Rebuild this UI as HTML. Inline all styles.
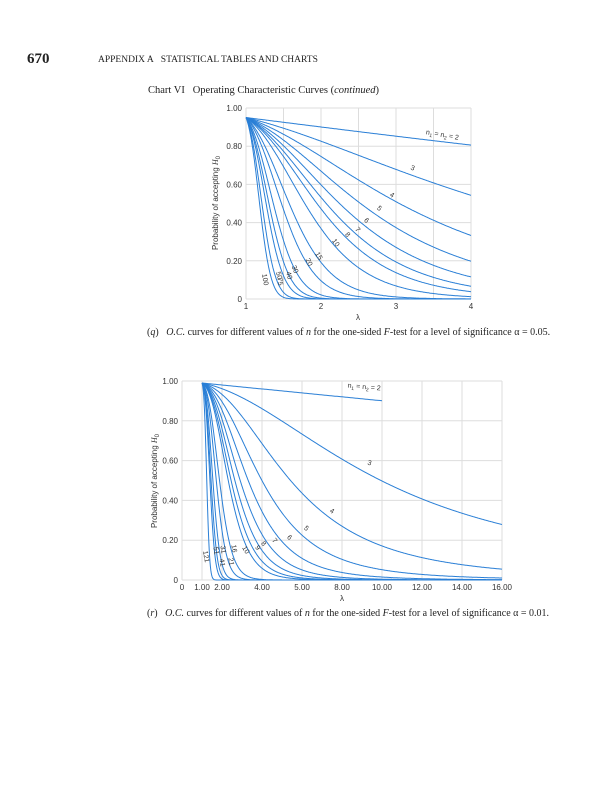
<!DOCTYPE html>
<html><head><meta charset="utf-8"><style>
html,body{margin:0;padding:0;background:#fff;}
body{width:609px;height:800px;position:relative;overflow:hidden;font-family:"Liberation Serif",serif;color:#222;}
.a{position:absolute;white-space:nowrap;}
svg{position:absolute;left:0;top:0;}
</style></head><body>
<div class="a" style="left:27px;top:51px;font-size:15px;font-weight:bold;">670</div>
<div class="a" style="left:98px;top:55px;font-size:9.5px;">APPENDIX A&nbsp;&nbsp;&nbsp;STATISTICAL TABLES AND CHARTS</div>
<div class="a" style="left:148px;top:85px;font-size:10.5px;">Chart VI&nbsp;&nbsp;&nbsp;Operating Characteristic Curves (<i>continued</i>)</div>
<div class="a" style="left:147px;top:327px;font-size:10px;">(<i>q</i>)&nbsp;&nbsp;&nbsp;<i>O.C.</i> curves for different values of <i>n</i> for the one-sided <i>F</i>-test for a level of significance α = 0.05.</div>
<div class="a" style="left:147px;top:608px;font-size:10px;">(<i>r</i>)&nbsp;&nbsp;&nbsp;<i>O.C.</i> curves for different values of <i>n</i> for the one-sided <i>F</i>-test for a level of significance α = 0.01.</div>
<svg id="s" width="609" height="800" xmlns="http://www.w3.org/2000/svg" font-family="Liberation Sans, sans-serif"></svg>
<script>
var s=document.getElementById('s'),h='';
function L(x1,y1,x2,y2,c,w){h+='<line x1="'+x1+'" y1="'+y1+'" x2="'+x2+'" y2="'+y2+'" stroke="'+c+'" stroke-width="'+w+'"/>';}
function T(x,y,t,sz,a,rot){h+='<text x="'+x+'" y="'+y+'" font-size="'+sz+'" text-anchor="'+(a||'middle')+'" fill="#333"'+(rot!=null?' transform="rotate('+rot+' '+x+' '+y+')"':'')+'>'+t+'</text>';}
function lg(x){var c=[76.18009172947146,-86.50532032941677,24.01409824083091,-1.231739572450155,0.1208650973866179e-2,-0.5395239384953e-5];var y=x,t=x+5.5;t-=(x+0.5)*Math.log(t);var se=1.000000000190015;for(var j=0;j<6;j++)se+=c[j]/++y;return -t+Math.log(2.5066282746310005*se/x);}
function bcf(a,b,x){var qab=a+b,qap=a+1,qam=a-1,c=1,d=1-qab*x/qap;if(Math.abs(d)<1e-30)d=1e-30;d=1/d;var hh=d;for(var m=1;m<=300;m++){var m2=2*m,aa=m*(b-m)*x/((qam+m2)*(a+m2));d=1+aa*d;if(Math.abs(d)<1e-30)d=1e-30;c=1+aa/c;if(Math.abs(c)<1e-30)c=1e-30;d=1/d;hh*=d*c;aa=-(a+m)*(qab+m)*x/((a+m2)*(qap+m2));d=1+aa*d;if(Math.abs(d)<1e-30)d=1e-30;c=1+aa/c;if(Math.abs(c)<1e-30)c=1e-30;d=1/d;var del=d*c;hh*=del;if(Math.abs(del-1)<3e-9)break;}return hh;}
function ib(a,b,x){if(x<=0)return 0;if(x>=1)return 1;var bt=Math.exp(lg(a+b)-lg(a)-lg(b)+a*Math.log(x)+b*Math.log(1-x));return x<(a+1)/(a+b+2)?bt*bcf(a,b,x)/a:1-bt*bcf(b,a,1-x)/b;}
function Fc(x,d){return ib(d/2,d/2,x/(x+1));}
function Fq(p,d){var lo=-10,hi=12;for(var i=0;i<80;i++){var m=(lo+hi)/2;if(Fc(Math.exp(m),d)<p)lo=m;else hi=m;}return Math.exp((lo+hi)/2);}
function curve(n,alpha,lend,fx,fy,step){var d=n-1,fc=Fq(1-alpha,d),path='';for(var l=1;l<=lend+1e-6;l+=step){var P=Fc(fc/(l*l),d);path+=(path?'L':'M')+fx(l).toFixed(1)+' '+fy(P).toFixed(1);}h+='<path d="'+path+'" fill="none" stroke="#2a7fd6" stroke-width="1"/>';}
// chart 1
var X0=246,X1=471,Y0=108,Y1=299;
function px(l){return X0+(l-1)/3*(X1-X0);} function py(p){return Y1-p*(Y1-Y0);}
for(var l=1;l<=4.001;l+=0.5)L(px(l),Y0,px(l),Y1,'#ddd',1);
for(var p=0;p<=1.001;p+=0.2)L(X0,py(p),X1,py(p),'#ddd',1);
['0','0.20','0.40','0.60','0.80','1.00'].forEach(function(t,i){T(X0-4,py(i*0.2)+3,t,8,'end');});
[1,2,3,4].forEach(function(l){T(px(l),Y1+10,l,8);});
T(358,320,'λ',8);
T(218,203,'Probability of accepting <tspan font-style="italic" font-family="Liberation Serif">H</tspan><tspan font-size="6" dy="2">0</tspan>',8,'middle',-90);
[2,3,4,5,6,7,8,10,15,20,30,40,50,75,100].forEach(function(n){curve(n,0.05,4,px,py,0.01);});
T(442,137,'n<tspan font-size="5" dy="2">1</tspan><tspan dy="-2"> = n</tspan><tspan font-size="5" dy="2">2</tspan><tspan dy="-2"> = 2</tspan>',7,'middle',10);
[[412,170,'3',20],[391,197,'4',30],[378,210,'5',40],[365,222,'6',45],[356,231,'7',50],[346,236,'8',50],[334,244,'10',55],[317,257,'15',60],[307,263,'20',65],[293,270,'30',70],[287,276,'40',75],[277,276,'50',75],[278,282,'75',80],[263,280,'100',80]].forEach(function(a){T(a[0],a[1],a[2],7,'middle',a[3]);});
// chart 2
var A0=182,A1=502,B0=381,B1=580;
function qx(l){return A0+20*l;} function qy(p){return B1-p*(B1-B0);}
[0,1,2,4,6,8,10,12,14,16].forEach(function(l){L(qx(l),B0,qx(l),B1,'#ddd',1);});
for(var p=0;p<=1.001;p+=0.2)L(A0,qy(p),A1,qy(p),'#ddd',1);
['0','0.20','0.40','0.60','0.80','1.00'].forEach(function(t,i){T(A0-4,qy(i*0.2)+3,t,8,'end');});
[[0,'0'],[1,'1.00'],[2,'2.00'],[4,'4.00'],[6,'5.00'],[8,'8.00'],[10,'10.00'],[12,'12.00'],[14,'14.00'],[16,'16.00']].forEach(function(a){T(qx(a[0]),B1+10,a[1],8);});
T(342,601,'λ',8);
T(157,481,'Probability of accepting <tspan font-style="italic" font-family="Liberation Serif">H</tspan><tspan font-size="6" dy="2">0</tspan>',8,'middle',-90);
curve(2,0.01,10,qx,qy,0.05);
[3,4,5,6,7,8,9,10,16,21,31,41,51,121].forEach(function(n){curve(n,0.01,16,qx,qy,0.02);});
T(364,389,'n<tspan font-size="5" dy="2">1</tspan><tspan dy="-2"> = n</tspan><tspan font-size="5" dy="2">2</tspan><tspan dy="-2"> = 2</tspan>',7,'middle',5);
[[369,465,'3',15],[331,513,'4',30],[305,530,'5',40],[288,539,'6',45],[273,542,'7',50],[262,545,'8',50],[256,549,'9',55],[244,551,'10',60],[232,549,'16',80],[229,562,'21',80],[221,550,'31',80],[220,563,'41',80],[214,551,'51',80],[204,557,'121',80]].forEach(function(a){T(a[0],a[1],a[2],7,'middle',a[3]);});
s.innerHTML=h;
</script>
</body></html>
